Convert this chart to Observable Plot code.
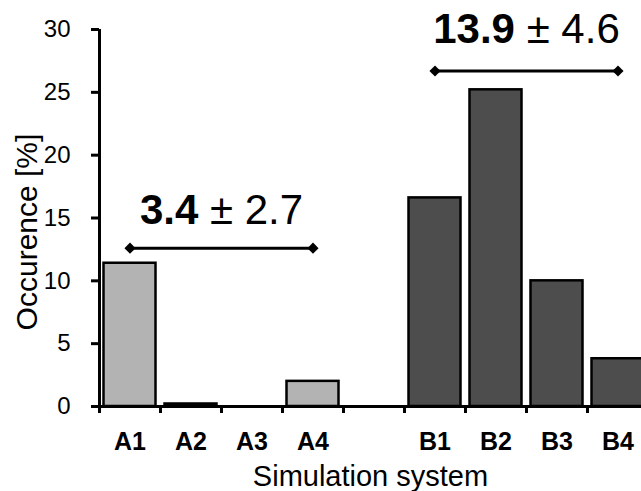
<!DOCTYPE html>
<html>
<head>
<meta charset="utf-8">
<script src="https://cdn.jsdelivr.net/npm/d3@7"></script>
<script src="https://cdn.jsdelivr.net/npm/@observablehq/plot@0.6"></script>
<style>
  body { margin: 0; background: #fff; }
  #chart svg { font-family: "Liberation Sans", Arial, sans-serif; }
  #chart svg g[aria-label^="x-axis"] text { font-weight: bold; font-size: 25px; }
  #chart svg g[aria-label^="y-axis"] text { font-size: 24px; }
</style>
</head>
<body>
<div id="chart"></div>
<script>
// ---- data ----
const categories = ["A1", "A2", "A3", "A4", " ", "B1", "B2", "B3", "B4"];
const groupOf    = ["A", "A", "A", "A", null, "B", "B", "B", "B"];
const occurrence = [11.4, 0.2, 0, 2.0, null, 16.6, 25.2, 10.0, 3.8];
const yTicks = [0, 5, 10, 15, 20, 25, 30];

const annotGroups   = ["A", "B"];
const annotFrom     = ["A1", "B1"];
const annotTo       = ["A4", "B4"];
const annotCenter   = ["A3", "B3"];
const annotBracketY = [12.6, 26.7];
const annotTextY    = [14.56, 28.95];
const annotMean     = ["3.4", "13.9"];
const annotSd       = ["2.7", "4.6"];

const xTitle = "Simulation system";
const yTitle = "Occurence [%]";

// ---- tables built from the arrays ----
const rows = categories
  .map((c, i) => ({cat: c, group: groupOf[i], value: occurrence[i]}))
  .filter(d => d.value != null);
const annot = annotGroups.map((g, i) => ({
  group: g, from: annotFrom[i], to: annotTo[i], center: annotCenter[i],
  by: annotBracketY[i], ty: annotTextY[i], mean: annotMean[i], sd: annotSd[i],
  label: `${annotMean[i]} ± ${annotSd[i]}`
}));
const ends = annot.flatMap(a => [{group: a.group, x: a.from, y: a.by}, {group: a.group, x: a.to, y: a.by}]);

const W = 641, H = 491, ML = 99, MR = 0, MT = 29, MB = 85;

const plot = Plot.plot({
  width: W,
  height: H,
  marginLeft: ML,
  marginRight: MR,
  marginTop: MT,
  marginBottom: MB,
  style: {fontFamily: "Liberation Sans, Arial, sans-serif", fontSize: "24px", color: "#000", background: "#fff", overflow: "visible"},
  x: {type: "band", domain: categories, range: [ML, 648], padding: 0, tickSize: 0, tickPadding: 26, label: null},
  y: {domain: [0, 30], ticks: yTicks, tickSize: 0, tickPadding: 29, label: null},
  color: {domain: ["A", "B"], range: ["#b3b3b3", "#4d4d4d"]},
  marks: [
    Plot.barY(rows, {x: "cat", y: "value", fill: "group", stroke: "#000", strokeWidth: 2.5, insetLeft: 4.5, insetRight: 4.5}),
    Plot.ruleY([0], {stroke: "#000", strokeWidth: 3}),
    // y axis line
    Plot.ruleX(categories.slice(0, 1), {x: d => d, dx: -30.5, y1: 0, y2: 30, stroke: "#000", strokeWidth: 3}),
    // y axis tick marks (outside, to the left of the axis line)
    Plot.ruleY(yTicks, {y: d => d, insetLeft: -8, insetRight: W - ML - MR, stroke: "#000", strokeWidth: 3}),
    // x axis tick marks between categories
    Plot.ruleX(categories, {x: d => d, dx: -30.5, y1: 0, y2: 0, insetBottom: -7, stroke: "#000", strokeWidth: 3}),
    Plot.line(ends, {x: "x", y: "y", z: "group", stroke: "#000", strokeWidth: 3}),
    Plot.dot(ends, {x: "x", y: "y", symbol: "diamond2", r: 5, fill: "#000"}),
    Plot.text(annot, {x: "center", y: "ty", dx: -30.5, text: "label", fontSize: 42, lineAnchor: "bottom", fill: "#000"}),
    Plot.text([xTitle], {frameAnchor: "bottom", dy: 79, lineAnchor: "bottom", fontSize: 29, fill: "#000"}),
    Plot.text([yTitle], {frameAnchor: "left", textAnchor: "middle", rotate: -90, dx: -72, dy: 14, fontSize: 30, fill: "#000"})
  ]
});

// mixed-weight annotation labels: bold mean, regular ± sd
d3.select(plot).selectAll("text").each(function () {
  const a = annot.find(a => a.label === this.textContent);
  if (!a) return;
  const t = d3.select(this);
  t.text(null);
  t.append("tspan").attr("font-weight", "bold").text(a.mean);
  t.append("tspan").text(" ± " + a.sd);
});

document.getElementById("chart").appendChild(plot);
</script>
</body>
</html>
